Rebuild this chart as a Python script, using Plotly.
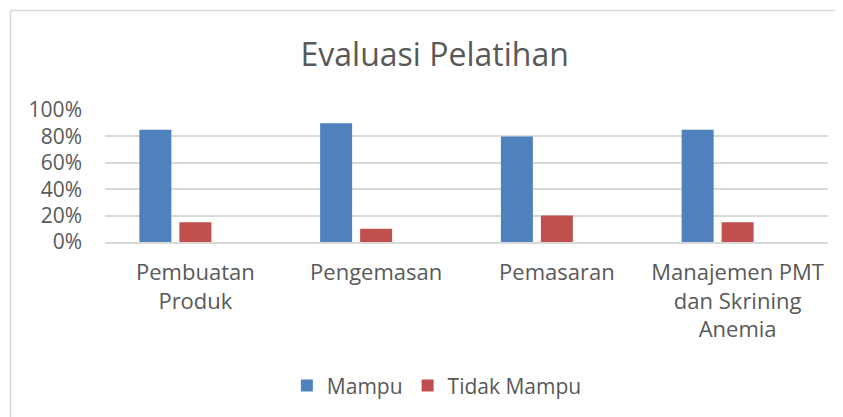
import plotly.graph_objects as go

categories = ["Pembuatan<br>Produk", "Pengemasan", "Pemasaran", "Manajemen PMT<br>dan Skrining<br>Anemia"]
mampu = [0.85, 0.90, 0.80, 0.85]
tidak_mampu = [0.15, 0.10, 0.20, 0.15]
tick_vals = [0, 0.2, 0.4, 0.6, 0.8, 1.0]
tick_text = ["0%", "20%", "40%", "60%", "80%", "100%"]

FONT = "Open Sans"
TXT = "#595959"

# page body has ~8px default margin; work in figure coords
W, H = 835, 409
L, R, T, B = 97, 15, 102, 175
pw, ph = W - L - R, H - T - B
slot = pw / 4.0
bar_w = 32 / slot

fig = go.Figure()
fig.add_trace(go.Bar(x=categories, y=mampu, name="Mampu", width=bar_w, offset=-56 / slot,
                     marker=dict(color="#4F81BD", line=dict(width=0))))
fig.add_trace(go.Bar(x=categories, y=tidak_mampu, name="Tidak Mampu", width=bar_w, offset=-16 / slot,
                     marker=dict(color="#C0504D", line=dict(width=0))))

bx = (2.5 - L) / pw
by = 1 + (T - 2.5) / ph

fig.update_layout(
    width=W, height=H,
    margin=dict(l=L, r=R, t=T, b=B, autoexpand=False),
    paper_bgcolor="white", plot_bgcolor="white",
    barmode="overlay",
    title=dict(text="Evaluasi Pelatihan", x=0.511, xanchor="center", y=0.885, yanchor="middle",
               font=dict(family=FONT, size=32, color=TXT)),
    font=dict(family=FONT, color=TXT),
    legend=dict(orientation="h", x=0.459, xanchor="center", y=-1.09, yanchor="middle",
                font=dict(family=FONT, size=21, color=TXT), itemwidth=30, traceorder="normal"),
    yaxis=dict(range=[0, 1], tickvals=tick_vals, ticktext=tick_text, showgrid=True,
               gridcolor="#D9D9D9", gridwidth=1.5, zeroline=False, showline=False,
               tickfont=dict(family=FONT, size=21, color=TXT), ticklabelstandoff=22),
    xaxis=dict(showline=True, linecolor="#D9D9D9", linewidth=1.5, showgrid=False,
               tickfont=dict(family=FONT, size=22, color=TXT), ticklabelstandoff=10),
    shapes=[
        dict(type="line", xref="paper", yref="paper", x0=bx, x1=bx, y0=-2, y1=by,
             line=dict(color="#D9D9D9", width=1.5)),
        dict(type="line", xref="paper", yref="paper", x0=bx, x1=1.2, y0=by, y1=by,
             line=dict(color="#D9D9D9", width=1.5)),
    ],
)

fig.write_html("out.html")
